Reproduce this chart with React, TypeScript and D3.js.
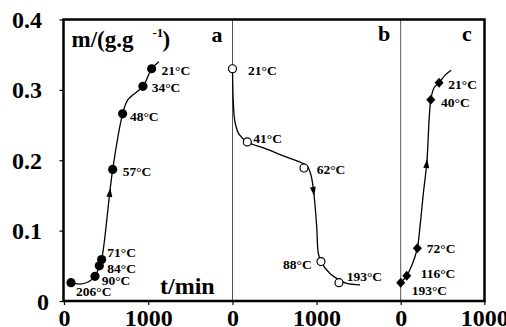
import { useRef, useEffect } from "react";
import * as d3 from "d3";

// panel a: drying (filled circles)
const tempsA = ["206°C", "90°C", "84°C", "71°C", "57°C", "48°C", "34°C", "21°C"];
const timeA = [83, 368, 419, 447, 578, 696, 937, 1040];
const massA = [0.026, 0.035, 0.05, 0.059, 0.187, 0.266, 0.305, 0.33];
const fitTimeA = [83, 190, 285, 368, 419, 447, 578, 696, 759, 937, 1040, 1127];
const fitMassA = [0.026, 0.024, 0.027, 0.035, 0.05, 0.059, 0.187, 0.266, 0.286, 0.305, 0.33, 0.34];

// panel b: heating (open circles)
const tempsB = ["21°C", "41°C", "62°C", "88°C", "193°C"];
const timeB = [0, 176, 850, 1052, 1266];
const massB = [0.33, 0.226, 0.189, 0.056, 0.026];
const fitTimeB = [0, 10, 30, 77, 176, 386, 589, 767, 886, 933, 969, 1001, 1020, 1052, 1159, 1266, 1358, 1516];
const fitMassB = [0.33, 0.281, 0.254, 0.237, 0.226, 0.217, 0.207, 0.199, 0.192, 0.179, 0.151, 0.106, 0.068, 0.056, 0.039, 0.03, 0.025, 0.023];

// panel c: rehydration (filled diamonds)
const tempsC = ["193°C", "116°C", "72°C", "40°C", "21°C"];
const timeC = [0, 72, 199, 360, 459];
const massC = [0.026, 0.036, 0.075, 0.286, 0.31];
const fitTimeC = [0, 72, 135, 199, 231, 271, 312, 360, 399, 459, 531, 603];
const fitMassC = [0.026, 0.036, 0.051, 0.075, 0.106, 0.153, 0.196, 0.286, 0.303, 0.31, 0.321, 0.328];

const arrowMass = [0.155, 0.155, 0.196];
const yTicks = [0, 0.1, 0.2, 0.3, 0.4];
const xTicks = [0, 1000];

// label offsets (px) relative to each marker
const offA = [[5, 13.5], [6.7, 9], [8, 6.8], [5.6, -2.3], [10, 6.7], [7.3, 7], [8.7, 5.8], [10, 6.5]];
const offB = [[15.6, 6.5], [6, 1], [12.7, 6], [-9.3, 7.8], [7.7, -1.7]];
const offC = [[11, 11.8], [14, 2], [9.4, 4.5], [10.3, 6.8], [9.3, 6]];

const FONT = "'Liberation Serif', 'Times New Roman', serif";

export default function App() {
  const svgRef = useRef<SVGSVGElement>(null);

  useEffect(() => {
    if (!svgRef.current) return;
    const svg = d3.select(svgRef.current);
    svg.selectAll("*").remove();

    const top = 19.5;
    const bottom = 301;
    const left = 63.5;
    const right = 484.5;

    const y = d3.scaleLinear().domain([0, 0.4]).range([bottom, top]);
    const xa = d3.scaleLinear().domain([0, 2000]).range([64, 232.5]);
    const xb = d3.scaleLinear().domain([0, 2000]).range([232.5, 400.7]);
    const xc = d3.scaleLinear().domain([0, 1000]).range([400.7, 484.3]);

    const panels = [
      { x: xa, time: timeA, mass: massA, temps: tempsA, ft: fitTimeA, fm: fitMassA, off: offA, mark: "dot" },
      { x: xb, time: timeB, mass: massB, temps: tempsB, ft: fitTimeB, fm: fitMassB, off: offB, mark: "open" },
      { x: xc, time: timeC, mass: massC, temps: tempsC, ft: fitTimeC, fm: fitMassC, off: offC, mark: "diamond" },
    ];

    // panel dividers
    [xb(0), xc(0)].forEach((px) => {
      svg.append("line")
        .attr("x1", px).attr("x2", px).attr("y1", top).attr("y2", bottom)
        .attr("stroke", "#555").attr("stroke-width", 1);
    });

    // y axis
    const yAxis = svg.append("g")
      .attr("transform", `translate(${left},0)`)
      .call(d3.axisLeft(y).tickValues(yTicks).tickSize(4).tickPadding(0).tickFormat((d) => (d === 0 ? "0" : d3.format(".1f")(d as number))));
    yAxis.select(".domain").remove();
    yAxis.selectAll("line").attr("stroke", "#000").attr("stroke-width", 1.2);
    yAxis.selectAll("text")
      .attr("font-family", FONT).attr("font-weight", "bold").attr("font-size", 24).attr("fill", "#000")
      .attr("x", (d) => (d === 0 ? -14.5 : -21.5))
      .attr("dy", null).attr("y", 8);

    // x axes
    panels.forEach((p) => {
      const ax = svg.append("g")
        .attr("transform", `translate(0,${bottom})`)
        .call(d3.axisBottom(p.x).tickValues(xTicks).tickSize(4).tickPadding(0).tickFormat(d3.format("d")));
      ax.select(".domain").remove();
      ax.selectAll("line").attr("stroke", "#000").attr("stroke-width", 1.2);
      ax.selectAll("text")
        .attr("font-family", FONT).attr("font-weight", "bold").attr("font-size", 24).attr("fill", "#000")
        .attr("dy", null).attr("y", 24.5);
    });

    // frame
    svg.append("rect")
      .attr("x", left).attr("y", top).attr("width", right - left).attr("height", bottom - top)
      .attr("fill", "none").attr("stroke", "#000").attr("stroke-width", 2.5);

    // curves, markers, arrows, labels
    panels.forEach((p, i) => {
      const pts: [number, number][] = p.ft.map((t, k) => [p.x(t), y(p.fm[k])]);
      svg.append("path")
        .attr("d", d3.line().curve(d3.curveCatmullRom.alpha(0.5))(pts) || "")
        .attr("fill", "none").attr("stroke", "#000").attr("stroke-width", 1.3);

      // arrow along curve order
      const am = arrowMass[i];
      for (let k = 0; k < p.fm.length - 1; k++) {
        const m0 = p.fm[k], m1 = p.fm[k + 1];
        if ((am - m0) * (am - m1) <= 0 && m0 !== m1) {
          const f = (am - m0) / (m1 - m0);
          const [x0, y0] = pts[k];
          const [x1, y1] = pts[k + 1];
          const ax = x0 + f * (x1 - x0);
          const ay = y0 + f * (y1 - y0);
          const ang = (Math.atan2(y1 - y0, x1 - x0) * 180) / Math.PI;
          svg.append("path")
            .attr("d", "M4,0L-5,-3L-5,3Z")
            .attr("transform", `translate(${ax},${ay}) rotate(${ang})`)
            .attr("fill", "#000");
          break;
        }
      }

      p.time.forEach((t, k) => {
        const cx = p.x(t);
        const cy = y(p.mass[k]);
        if (p.mark === "diamond") {
          svg.append("path")
            .attr("d", `M${cx},${cy - 5}L${cx + 4.5},${cy}L${cx},${cy + 5}L${cx - 4.5},${cy}Z`)
            .attr("fill", "#000");
        } else {
          svg.append("circle")
            .attr("cx", cx).attr("cy", cy).attr("r", p.mark === "open" ? 4 : 4.6)
            .attr("fill", p.mark === "open" ? "#fff" : "#000")
            .attr("stroke", "#000").attr("stroke-width", p.mark === "open" ? 1.2 : 0);
        }
        const [dx, dy] = p.off[k];
        svg.append("text")
          .attr("x", cx + dx).attr("y", cy + dy)
          .attr("text-anchor", dx < 0 ? "end" : "start")
          .attr("font-family", FONT).attr("font-weight", "bold").attr("font-size", 13.5)
          .text(p.temps[k]);
      });
    });

    // titles
    const txt = (x: number, yy: number, s: string, size: number) =>
      svg.append("text").attr("x", x).attr("y", yy)
        .attr("font-family", FONT).attr("font-weight", "bold").attr("font-size", size).text(s);
    txt(71.5, 47, "m/(g.g", 23);
    txt(152.5, 37, "-1", 13);
    txt(162.5, 47, ")", 23);
    txt(211.5, 41.5, "a", 22);
    txt(378, 41, "b", 22);
    txt(462, 40.5, "c", 22);
    txt(160, 294, "t/min", 24);
  }, []);

  return (
    <svg
      ref={svgRef}
      width={506}
      height={327}
      style={{ position: "absolute", left: 0, top: 0, background: "#fff" }}
    />
  );
}
